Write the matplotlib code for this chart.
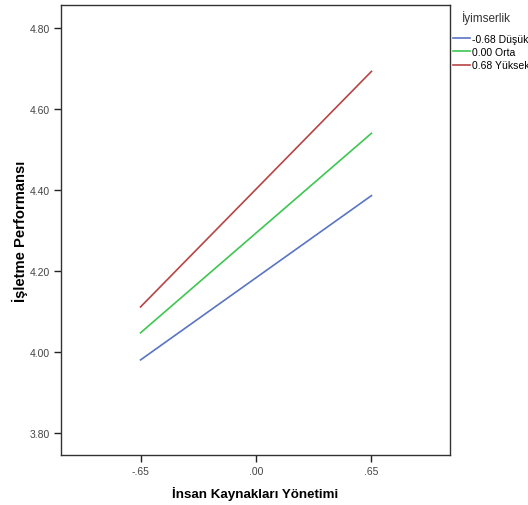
import matplotlib
matplotlib.use("Agg")
import matplotlib.pyplot as plt

plt.rcParams['font.family'] = ['Liberation Sans', 'DejaVu Sans']

# data
x_levels = [-0.65, 0.65]
x_ticklabels = ['-.65', '.00', '.65']
groups = ['-0.68 Düşük', '0.00 Orta', '0.68 Yüksek']
low = [3.980, 4.386]
mid = [4.047, 4.540]
high = [4.111, 4.693]
y_ticks = [3.80, 4.00, 4.20, 4.40, 4.60, 4.80]

colors = ['#5a74c4', '#3ec650', '#b84444']

fig = plt.figure(figsize=(5.28, 5.06), dpi=100)
ax = fig.add_axes([0.1155, 0.0988, 0.7367, 0.8893])

for vals, c, lab in zip([low, mid, high], colors, groups):
    ax.plot(x_levels, vals, color=c, lw=1.2, label=lab)

ax.set_xlim(-1.098, 1.092)
ax.set_ylim(3.745, 4.857)
ax.set_xticks([-0.65, 0.0, 0.65])
ax.set_xticklabels(x_ticklabels)
ax.set_yticks(y_ticks)
ax.set_yticklabels(['%.2f' % v for v in y_ticks])
ax.tick_params(direction='out', length=5, width=1, pad=3, labelsize=7.5,
               colors='#222222', labelcolor='#444444')
for s in ax.spines.values():
    s.set_color('#333333')
    s.set_linewidth(1)

ax.set_xlabel('İnsan Kaynakları Yönetimi', fontsize=9.6, fontweight='bold', labelpad=7)
ax.set_ylabel('İşletme Performansı', fontsize=10.6, fontweight='bold', labelpad=1)

# legend outside on the right, title placed separately
fig.text(462 / 528, 1 - 18 / 506, 'İyimserlik', fontsize=8.5, color='#333333',
         ha='left', va='center')
ax.legend(loc='upper left', bbox_to_anchor=(453 / 528, 1 - 35 / 506),
          bbox_transform=fig.transFigure, frameon=False, fontsize=7.5,
          handlelength=1.6, handletextpad=0.2, labelspacing=0.3,
          borderaxespad=0, borderpad=0)

fig.savefig('out.png', dpi=100)
